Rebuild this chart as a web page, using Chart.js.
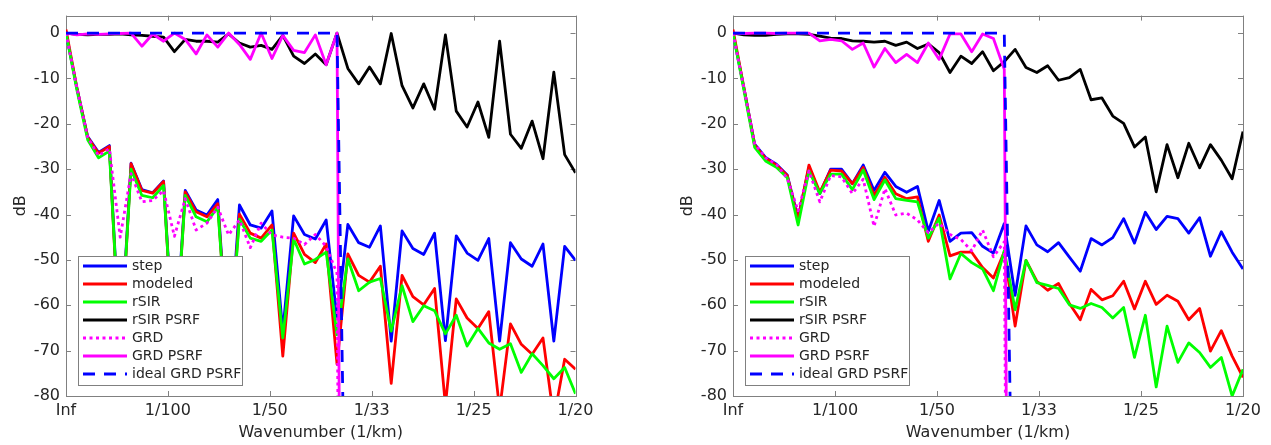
<!DOCTYPE html>
<html>
<head>
<meta charset="utf-8">
<script src="https://cdn.jsdelivr.net/npm/chart.js@4.4.0/dist/chart.umd.min.js"></script>
<style>
  html, body { margin: 0; padding: 0; background: #fff; overflow: hidden; }
  #wrap { position: relative; width: 1271px; height: 445px; }
  .panel { position: absolute; top: 0; height: 445px; }
  #p1 { left: 0; width: 620px; }
  #p2 { left: 667px; width: 604px; }
</style>
</head>
<body>
<div id="wrap">
  <div class="panel" id="p1"><canvas id="c1"></canvas></div>
  <div class="panel" id="p2"><canvas id="c2"></canvas></div>
</div>
<script>
// wavenumber grid, 48 samples from Inf (0) to 1/20 km^-1
var wavenumber = Array.from({length: 48}, function (_, i) { return i * 0.05 / 47; });
var tickValues = [0, 0.01, 0.02, 0.03, 0.04, 0.05];
var tickLabels = ['Inf', '1/100', '1/50', '1/33', '1/25', '1/20'];
var yTicks = [0, -10, -20, -30, -40, -50, -60, -70, -80];
var seriesNames = ['step', 'modeled', 'rSIR', 'rSIR PSRF', 'GRD', 'GRD PSRF', 'ideal GRD PSRF'];

// left panel (dB)
var stepLeft = [0, -12, -22.8, -26.3, -24.8, -70, -28.7, -34.5, -35.2, -32.6,
  -72, -34.7, -39, -40.1, -36.7, -72, -37.9, -42.3, -43, -39.2,
  -65.7, -40.3, -44.4, -45.4, -41.2, -63, -42.2, -46.2, -47.2, -42.5,
  -67.9, -43.6, -47.5, -48.8, -44.1, -67.8, -44.7, -48.5, -50.1, -45.3,
  -67.9, -46.2, -49.8, -51.4, -46.5, -67.9, -47, -50.1];
var modeledLeft = [0.8, -12, -23, -26.5, -25, -72, -28.8, -34.7, -35.3, -32.7,
  -74, -35, -39.4, -40.5, -37.6, -73, -39.9, -44.1, -45.2, -42.3,
  -71.2, -44.1, -48.8, -50.6, -46.5, -73, -48.7, -53.4, -54.9, -51.4,
  -77.2, -53.4, -58.1, -59.9, -56.3, -82, -58.6, -62.8, -65.1, -61.4,
  -83, -64.1, -68.6, -70.8, -67.2, -85, -71.9, -74.1];
var rsirLeft = [0, -12.5, -23.5, -27.5, -26, -70, -30, -35.8, -36.3, -33.6,
  -72, -35.8, -40.5, -41.6, -38.4, -72, -41, -45.2, -45.9, -43.4,
  -67.2, -45.4, -50.9, -49.9, -48.3, -66.5, -49.8, -56.8, -54.9, -54.1,
  -65.7, -55.7, -63.6, -60.1, -61.2, -66.3, -62.2, -69, -65.1, -68.3,
  -69.7, -68.5, -74.8, -70.7, -73.3, -76.2, -73.7, -79.5];
var rsirPsrfLeft = [0, -0.3, -0.4, -0.3, -0.3, -0.2, -0.4, -0.5, -0.7, -0.9,
  -4.1, -1.4, -1.8, -1.8, -2, -0.2, -2.2, -3.1, -2.7, -3.6,
  -0.5, -5.1, -6.7, -4.6, -7, 0, -7.8, -11.2, -7.5, -11.2,
  -0.1, -11.6, -16.5, -11.2, -16.8, -0.4, -17.2, -20.7, -15.2, -23,
  -1.8, -22.3, -25.4, -19.4, -27.7, -8.6, -26.8, -30.8];
var grdLeft = [0, -12, -23, -27, -25.5, -45, -31, -37.2, -36.9, -34.7,
  -44.8, -36.5, -43.4, -41.9, -38.4, -44.5, -41.2, -47.3, -41.9, -44.5,
  -45, -45.2, -46.6, -44.4, -47, -53, -400, null, null, null,
  null, null, null, null, null, null, null, null, null, null,
  null, null, null, null, null, null, null, null];
var grdPsrfLeft = [0, -0.4, -0.2, -0.3, -0.2, -0.1, 0, -2.9, -0.2, -1.8,
  0, -1.4, -4.6, -0.4, -3.1, 0, -2.5, -5.8, 0, -5.6,
  -0.5, -3.8, -4.3, -0.4, -7, 0, -400, null, null, null,
  null, null, null, null, null, null, null, null, null, null,
  null, null, null, null, null, null, null, null];
var idealLeft = [0, 0, 0, 0, 0, 0, 0, 0, 0, 0,
  0, 0, 0, 0, 0, 0, 0, 0, 0, 0,
  0, 0, 0, 0, 0, 0, -150, null, null, null,
  null, null, null, null, null, null, null, null, null, null,
  null, null, null, null, null, null, null, null];

// right panel (dB)
var stepRight = [0, -12, -24.5, -27.4, -28.9, -31.3, -40.8, -29.6, -35.4, -30,
  -30, -33.2, -29.1, -34.7, -30.7, -33.8, -35.1, -33.8, -43.7, -36.9,
  -45.9, -44.1, -44, -47, -48.5, -42, -57.8, -42.5, -46.7, -48.2,
  -46.2, -49.4, -52.5, -45.3, -46.7, -45.1, -40.9, -46.3, -39.5, -43.3,
  -40.4, -40.9, -44.1, -40.7, -49.2, -43.8, -48.3, -52];
var modeledRight = [0.8, -12, -24.7, -27.6, -29.1, -31.4, -41.2, -29.1, -35.1, -30.2,
  -30.4, -33.2, -29.6, -35.8, -31.8, -35.4, -36.5, -36.1, -45.9, -40.1,
  -49.1, -48.3, -48.3, -51.7, -54, -48.2, -64.6, -50.1, -54.7, -56.7,
  -55.2, -59.6, -63.2, -56.5, -58.8, -57.9, -54.7, -60.8, -54.7, -59.8,
  -57.8, -59.1, -63.2, -60.7, -70.1, -65.6, -71.2, -75.9];
var rsirRight = [0, -12.5, -25.2, -28.2, -29.6, -31.9, -42.3, -30.4, -35.4, -31.1,
  -31.1, -34.5, -30.2, -36.7, -32.4, -36.5, -36.9, -37.2, -45.2, -40.8,
  -54.2, -48.6, -50.6, -52, -56.8, -48, -61, -50.1, -55, -55.6,
  -56.3, -59.9, -60.7, -59.6, -60.5, -62.8, -60.5, -71.5, -62.2, -78,
  -64.6, -72.6, -68.3, -70.4, -73.7, -71.5, -80, -74.1];
var rsirPsrfRight = [0, -0.4, -0.5, -0.5, -0.3, -0.2, -0.2, -0.3, -0.7, -1.1,
  -1.2, -1.7, -1.8, -2, -1.8, -2.7, -2, -3.4, -2.4, -4.3,
  -8.7, -5.1, -6.7, -4.1, -8.3, -6.3, -3.6, -7.6, -8.7, -7.2,
  -10.4, -9.8, -8, -14.7, -14.3, -18.3, -19.9, -25.1, -22.9, -35,
  -24.6, -31.9, -24.3, -29.7, -24.6, -28, -32.1, -21.7];
var grdRight = [0, -12, -24.5, -27.5, -29, -32, -39.2, -30.4, -37.2, -31.4,
  -31.7, -35.4, -32.2, -42.6, -34.3, -40.1, -39.7, -41.2, -44, -41.9,
  -44.4, -45.5, -48, -43.4, -49.3, -46, -400, null, null, null,
  null, null, null, null, null, null, null, null, null, null,
  null, null, null, null, null, null, null, null];
var grdPsrfRight = [0, -0.1, 0, 0, -0.1, 0, 0, 0, -1.7, -1.4,
  -1.7, -3.6, -2.2, -7.5, -3.4, -6.5, -4.7, -6.5, -2.2, -5.8,
  -0.2, -0.2, -4.1, -0.2, -1.2, -8, -400, null, null, null,
  null, null, null, null, null, null, null, null, null, null,
  null, null, null, null, null, null, null, null];
var idealRight = [0, 0, 0, 0, 0, 0, 0, 0, 0, 0,
  0, 0, 0, 0, 0, 0, 0, 0, 0, 0,
  0, 0, 0, 0, 0, 0, -150, null, null, null,
  null, null, null, null, null, null, null, null, null, null,
  null, null, null, null, null, null, null, null];

var styles = [
  {color: '#0000ff', dash: []},
  {color: '#ff0000', dash: []},
  {color: '#00ff00', dash: []},
  {color: '#000000', dash: []},
  {color: '#ff00ff', dash: [3, 3.5]},
  {color: '#ff00ff', dash: []},
  {color: '#0000ff', dash: [12, 9]}
];
var LW = 2.8;
var FONT = 'DejaVu Sans';
var TXT = '#262626';
var AXIS = '#808080';

function makeDatasets(arrays) {
  return arrays.map(function (arr, k) {
    return {
      label: seriesNames[k],
      data: wavenumber.map(function (x, i) { return {x: x, y: arr[i]}; }),
      borderColor: styles[k].color,
      borderDash: styles[k].dash,
      borderWidth: LW,
      borderJoinStyle: 'round',
      pointRadius: 0,
      tension: 0,
      spanGaps: false,
      order: 6 - k
    };
  });
}

// box with inward ticks, like the original axes
var framePlugin = {
  id: 'frame',
  beforeDatasetsDraw: function (chart) {
    var a = chart.chartArea, ctx = chart.ctx;
    var xs = chart.scales.x, ys = chart.scales.y;
    ctx.save();
    ctx.strokeStyle = AXIS;
    ctx.lineWidth = 1;
    ctx.strokeRect(Math.round(a.left) + 0.5, Math.round(a.top) + 0.5,
      Math.round(a.right - a.left), Math.round(a.bottom - a.top));
    ctx.beginPath();
    tickValues.forEach(function (v) {
      var px = Math.round(xs.getPixelForValue(v)) + 0.5;
      ctx.moveTo(px, a.bottom); ctx.lineTo(px, a.bottom - 5);
      ctx.moveTo(px, a.top); ctx.lineTo(px, a.top + 5);
    });
    yTicks.forEach(function (v) {
      var py = Math.round(ys.getPixelForValue(v)) + 0.5;
      ctx.moveTo(a.left, py); ctx.lineTo(a.left + 5, py);
      ctx.moveTo(a.right, py); ctx.lineTo(a.right - 5, py);
    });
    ctx.stroke();
    ctx.restore();
  }
};

// legend box in the lower left of the axes
var legendPlugin = {
  id: 'boxLegend',
  afterDraw: function (chart) {
    var a = chart.chartArea, ctx = chart.ctx;
    var left = a.left + 12, top = 256, w = 164, h = 129;
    ctx.save();
    ctx.fillStyle = '#ffffff';
    ctx.fillRect(left, top, w, h);
    ctx.strokeStyle = AXIS;
    ctx.lineWidth = 1;
    ctx.strokeRect(Math.round(left) + 0.5, top + 0.5, w, h);
    ctx.font = '14px "' + FONT + '"';
    ctx.textBaseline = 'middle';
    seriesNames.forEach(function (name, k) {
      var y = top + 10 + k * 18;
      ctx.beginPath();
      ctx.setLineDash(styles[k].dash);
      ctx.strokeStyle = styles[k].color;
      ctx.lineWidth = LW;
      ctx.moveTo(left + 5, y);
      ctx.lineTo(left + 49, y);
      ctx.stroke();
      ctx.setLineDash([]);
      ctx.fillStyle = TXT;
      ctx.fillText(name, left + 54, y + 0.5);
    });
    ctx.restore();
  }
};

function makeChart(id, arrays, rightPad) {
  return new Chart(document.getElementById(id), {
    type: 'line',
    data: {datasets: makeDatasets(arrays)},
    options: {
      responsive: true,
      maintainAspectRatio: false,
      animation: false,
      events: [],
      layout: {padding: {top: 9, right: rightPad, bottom: 0, left: 0}},
      plugins: {legend: {display: false}, tooltip: {enabled: false}},
      scales: {
        x: {
          type: 'linear',
          min: 0,
          max: 0.05,
          afterBuildTicks: function (s) { s.ticks = tickValues.map(function (v) { return {value: v}; }); },
          afterFit: function (s) { s.height = 49; },
          grid: {display: false, drawTicks: false},
          border: {display: false},
          ticks: {
            autoSkip: false, maxRotation: 0, padding: 5, color: TXT,
            font: {family: FONT, size: 16},
            callback: function (v, i) { return tickLabels[i]; }
          },
          title: {display: true, text: 'Wavenumber (1/km)', color: TXT,
            font: {family: FONT, size: 16}, padding: {top: 0, bottom: 3}}
        },
        y: {
          min: -80,
          max: 3.85,
          afterBuildTicks: function (s) { s.ticks = yTicks.map(function (v) { return {value: v}; }); },
          afterFit: function (s) { s.width = 66; },
          grid: {display: false, drawTicks: false},
          border: {display: false},
          ticks: {padding: 6, color: TXT, font: {family: FONT, size: 16}},
          title: {display: true, text: 'dB', color: TXT,
            font: {family: FONT, size: 16}, padding: {top: 11, bottom: 0}}
        }
      }
    },
    plugins: [framePlugin, legendPlugin]
  });
}

makeChart('c1', [stepLeft, modeledLeft, rsirLeft, rsirPsrfLeft, grdLeft, grdPsrfLeft, idealLeft], 44.5);
makeChart('c2', [stepRight, modeledRight, rsirRight, rsirPsrfRight, grdRight, grdPsrfRight, idealRight], 28);
</script>
</body>
</html>
